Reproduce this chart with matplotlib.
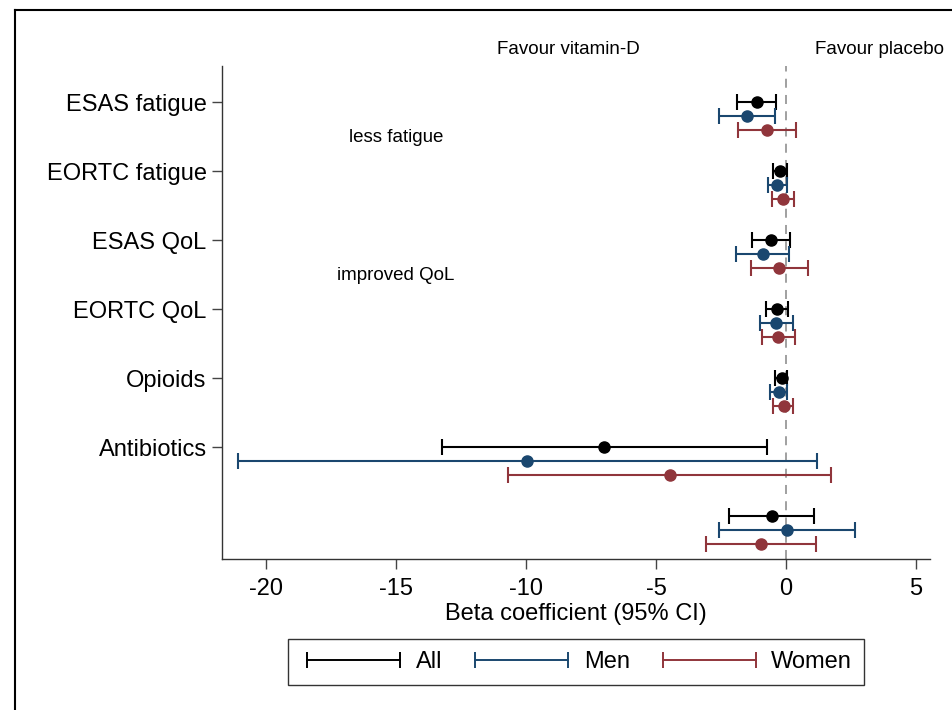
import numpy as np
import matplotlib
matplotlib.use("Agg")
import matplotlib.pyplot as plt
from matplotlib.lines import Line2D

plt.rcParams['font.family'] = ['Liberation Sans', 'DejaVu Sans']

# outcomes, top to bottom (last row has no label)
outcomes = ["ESAS fatigue", "EORTC fatigue", "ESAS QoL", "EORTC QoL", "Opioids", "Antibiotics", ""]

# beta coefficients and 95% CI
all_beta = [-1.13, -0.23, -0.58, -0.36, -0.17, -7.00, -0.55]
all_lo = [-1.90, -0.49, -1.32, -0.78, -0.42, -13.23, -2.19]
all_hi = [-0.37, 0.05, 0.15, 0.09, 0.05, -0.73, 1.08]

men_beta = [-1.51, -0.33, -0.90, -0.38, -0.27, -9.96, 0.03]
men_lo = [-2.56, -0.68, -1.92, -1.00, -0.62, -21.10, -2.56]
men_hi = [-0.42, 0.03, 0.12, 0.28, 0.05, 1.19, 2.65]

women_beta = [-0.74, -0.10, -0.27, -0.29, -0.08, -4.46, -0.97]
women_lo = [-1.83, -0.53, -1.36, -0.94, -0.49, -10.70, -3.09]
women_hi = [0.37, 0.31, 0.83, 0.35, 0.28, 1.73, 1.15]

groups = [
    ("All", all_beta, all_lo, all_hi, "black", 0.0),
    ("Men", men_beta, men_lo, men_hi, "#1a476f", 0.2),
    ("Women", women_beta, women_lo, women_hi, "#90353b", 0.4),
]

fig = plt.figure(figsize=(9.53, 7.1), dpi=100)
ax = fig.add_axes([222 / 953, 1 - 559 / 710, (930 - 222) / 953, (559 - 66) / 710])

rows = np.arange(1, len(outcomes) + 1)
handles = []
for name, beta, lo, hi, col, off in groups:
    beta = np.array(beta)
    err = np.vstack([beta - np.array(lo), np.array(hi) - beta])
    ax.errorbar(beta, rows + off, xerr=err, fmt="o", color=col, ecolor=col,
                markersize=8, elinewidth=1.5, capsize=6, capthick=1.5, zorder=3)
    handles.append(Line2D([0, 1], [0, 0], color=col, lw=1.4, marker="|",
                          markersize=11, markeredgewidth=1.4))

ax.axvline(0, color="#999999", lw=1.3, linestyle=(0, (5, 4)), zorder=1)

ax.set_xlim(-21.7, 5.54)
ax.set_ylim(7.623, 0.478)
ax.set_xticks([-20, -15, -10, -5, 0, 5])
ax.set_xticklabels(["-20", "-15", "-10", "-5", "0", "5"])
ax.set_yticks(rows[:-1])
ax.set_yticklabels(outcomes[:-1])
ax.tick_params(axis="both", labelsize=17, length=7, width=1, color="#444444", direction="out")
ax.tick_params(axis="y", pad=4)
ax.tick_params(axis="x", pad=7)
ax.set_xlabel("Beta coefficient (95% CI)", fontsize=17, labelpad=2)

for s in ["top", "right"]:
    ax.spines[s].set_visible(False)
for s in ["left", "bottom"]:
    ax.spines[s].set_color("#333333")
    ax.spines[s].set_linewidth(1)

ax.text(-8.38, 0.246, "Favour vitamin-D", fontsize=13.5, ha="center", va="center", clip_on=False)
ax.text(3.6, 0.246, "Favour placebo", fontsize=13.5, ha="center", va="center", clip_on=False)
ax.text(-15.0, 1.51, "less fatigue", fontsize=13.5, ha="center", va="center")
ax.text(-15.0, 3.52, "improved QoL", fontsize=13.5, ha="center", va="center")

leg = fig.legend(handles, ["All", "Men", "Women"], loc="center",
                 bbox_to_anchor=(576 / 953, 1 - 662 / 710), ncol=3, fontsize=17,
                 numpoints=2, handlelength=4.55, handletextpad=0.35, columnspacing=1.1,
                 fancybox=False, framealpha=1, edgecolor="#333333",
                 borderpad=0.5, borderaxespad=0)
leg.get_frame().set_linewidth(1)

# outer frame (top and left edges visible)
fig.add_artist(Line2D([15 / 953, 1], [1 - 10 / 710, 1 - 10 / 710], color="black", lw=1.5))
fig.add_artist(Line2D([15 / 953, 15 / 953], [0, 1 - 10 / 710], color="black", lw=1.5))

fig.savefig("out.png", dpi=100)
